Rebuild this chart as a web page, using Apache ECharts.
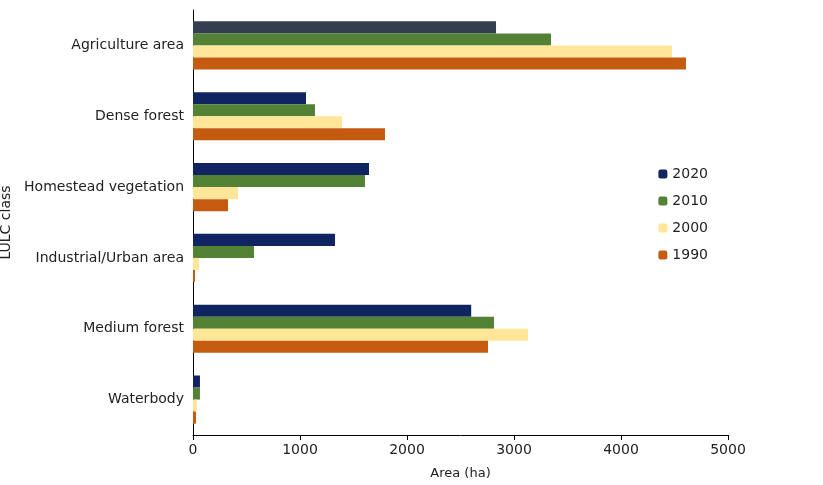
<!DOCTYPE html>
<html><head><meta charset="utf-8">
<script src="https://cdn.jsdelivr.net/npm/echarts@6/dist/echarts.min.js"></script>
<style>html,body{margin:0;padding:0;background:#fff}#c{width:823px;height:485px}</style>
</head><body><div id="c"></div>
<script>
const categories = ["Agriculture area","Dense forest","Homestead vegetation","Industrial/Urban area","Medium forest","Waterbody"];
const years = ["2020","2010","2000","1990"];
const v2020 = [2832,1056,1645,1327,2600,65];
const v2010 = [3346,1140,1607,570,2813,65];
const v2000 = [4477,1393,421,56,3131,37];
const v1990 = [4607,1794,327,19,2757,28];
const colors = ["#0f2460","#548235","#ffe699","#c55a11"];
const vals = [v2020,v2010,v2000,v1990];
const chart = echarts.init(document.getElementById('c'));
const font = "DejaVu Sans";
chart.setOption({
  animation:false,
  textStyle:{fontFamily:font},
  grid:{left:193,right:95,top:10,bottom:50,containLabel:false,outerBoundsMode:'none'},
  legend:{orient:'vertical',right:110,top:162,itemWidth:9,itemHeight:9,itemGap:13,
    textStyle:{fontSize:14,color:'#222',fontFamily:font},data:years},
  xAxis:{type:'value',min:0,max:5000,interval:1000,
    name:'Area (ha)',nameLocation:'middle',nameGap:32,nameTextStyle:{fontSize:13,color:'#222'},
    axisLine:{show:true,lineStyle:{color:'#000'}},axisTick:{show:true,lineStyle:{color:'#000'}},
    splitLine:{show:false},axisLabel:{fontSize:14,color:'#222',formatter:v=>String(v)}},
  yAxis:{type:'category',data:categories,inverse:true,
    name:'LULC class',nameLocation:'middle',nameGap:172,nameRotate:90,nameTextStyle:{fontSize:14,color:'#222'},
    axisLine:{lineStyle:{color:'#000'}},axisTick:{show:false},axisLabel:{fontSize:14,color:'#222',margin:9}},
  series: years.map((y,i)=>({name:y,type:'bar',barGap:'0%',barCategoryGap:'32%',
    itemStyle:{color:colors[i]},
    data: vals[i].map((v,j)=> (i===0&&j===0)?{value:v,itemStyle:{color:'#333f50'}}:v)}))
});
</script></body></html>
